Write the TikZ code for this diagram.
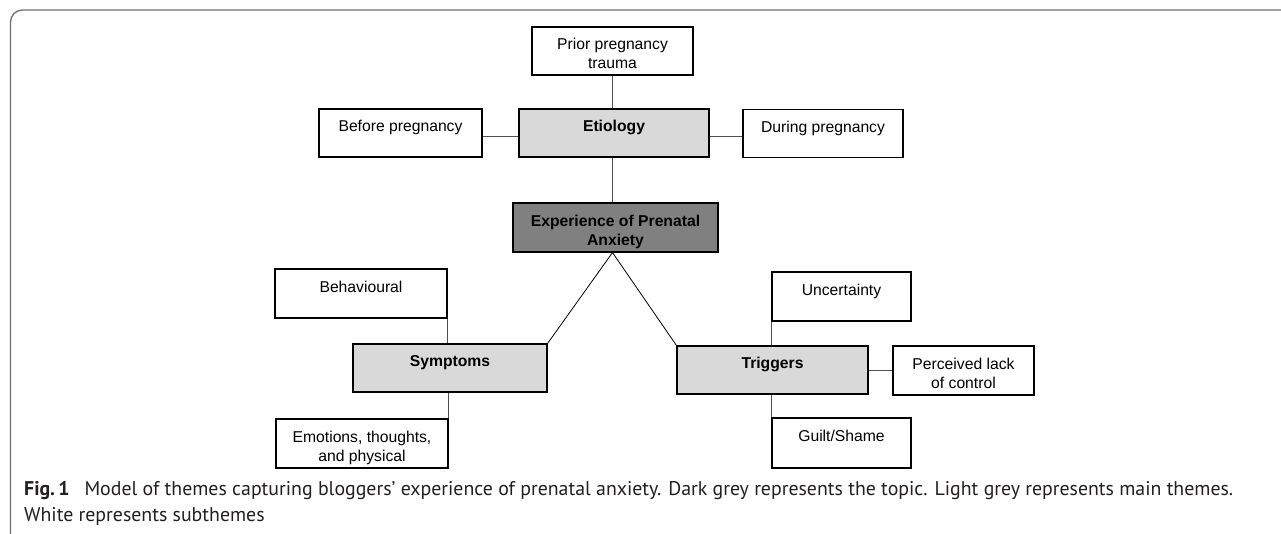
\documentclass[tikz,border=0pt]{standalone}
\usepackage{fontspec}
\setmainfont{Liberation Sans}
\newfontfamily\capfont{PT Sans}
\definecolor{lightg}{HTML}{D9D9D9}
\definecolor{darkg}{HTML}{808080}
\definecolor{linkc}{HTML}{505050}
\definecolor{framec}{HTML}{6E6E6E}
\definecolor{capc}{HTML}{231F20}
\newcommand\tl[1]{\begin{tabular}[t]{@{}c@{}}#1\end{tabular}}
\newcommand\capone{\textbf{Fig.\,1}\hspace{0.75em}Model of themes capturing bloggers’ experience of prenatal anxiety. Dark grey represents the topic. Light grey represents main themes.}
\newlength\capwd
\begin{document}
\settowidth\capwd{\capfont\fontsize{10pt}{12pt}\selectfont\capone}%
\pgfmathsetmacro\capsz{1209/(\capwd/10)}%
\begin{tikzpicture}[x=1pt,y=-1pt,
  box/.style={draw=black, line width=1.1pt, inner sep=0pt, minimum height=48pt,
    text height=22.5pt, text depth=25.5pt, font=\fontsize{15.7pt}{19pt}\selectfont},
  sub/.style={box, fill=white},
  theme/.style={box, fill=lightg, font=\fontsize{15.7pt}{19pt}\selectfont\bfseries},
  topic/.style={box, fill=darkg, font=\fontsize{15.7pt}{19pt}\selectfont\bfseries},
  link/.style={draw=linkc, line width=1pt},
  diag/.style={draw=black, line width=0.8pt},
  captext/.style={anchor=base west, inner sep=0pt, text=capc, font=\capfont\fontsize{\capsz pt}{\capsz pt}\selectfont}]
\useasboundingbox (0,0) rectangle (1281,533);
% frame
\draw[framec, line width=1.3pt, rounded corners=12pt] (10.5,540) -- (10.5,10) -- (1290,10);
% nodes
\node[sub, minimum width=161pt] (prior) at (612.5,51) {\tl{Prior pregnancy\\trauma}};
\node[sub, minimum width=163pt] (before) at (400.5,133) {\tl{Before pregnancy}};
\node[theme, minimum width=190pt] (etio) at (614,133) {\tl{Etiology}};
\node[sub, minimum width=160pt] (during) at (823,133.5) {\tl{During pregnancy}};
\node[topic, minimum width=205pt, minimum height=49pt] (exp) at (615.5,227.5) {\tl{Experience of Prenatal\\Anxiety}};
\node[sub, minimum width=172pt, minimum height=49pt] (behav) at (361,293.5) {\tl{Behavioural}};
\node[theme, minimum width=194pt] (sympt) at (450,368) {\tl{Symptoms}};
\node[sub, minimum width=172pt, minimum height=49pt] (emo) at (362,443.5) {\tl{Emotions, thoughts,\\and physical}};
\node[sub, minimum width=139pt, minimum height=49pt] (unc) at (841.5,296.5) {\tl{Uncertainty}};
\node[theme, minimum width=191pt] (trig) at (772.5,370) {\tl{Triggers}};
\node[sub, minimum width=141pt, minimum height=49pt] (perc) at (963.5,370.5) {\tl{Perceived lack\\of control}};
\node[sub, minimum width=139pt, minimum height=50pt] (guilt) at (841.5,443) {\tl{Guilt/Shame}};
% connectors
\coordinate (apex) at (exp.south -| prior.south);
\draw[link] (prior.south) -- (prior.south |- etio.north);
\draw[link] (prior.south |- etio.south) -- (prior.south |- exp.north);
\draw[link] ([yshift=-3pt]before.east) -- ([yshift=-3pt]before.east -| etio.west);
\draw[link] ([yshift=-3pt]etio.east) -- ([yshift=-3pt]etio.east -| during.west);
\draw[diag] (sympt.north east) -- (apex) -- (trig.north west);
\draw[link] (behav.south east) -- (behav.south east |- sympt.north);
\draw[link] (sympt.south -| emo.north east) -- (emo.north east);
\draw[link] (unc.south west) -- (unc.south west |- trig.north);
\draw[link] (trig.south -| guilt.north west) -- (guilt.north west);
\draw[link] (trig.east) -- (trig.east -| perc.west);
% caption
\node[captext] (cap1) at (24,495) {\capone};
\node[captext] (cap2) at (24,521) {White represents subthemes};
\end{tikzpicture}
\end{document}
